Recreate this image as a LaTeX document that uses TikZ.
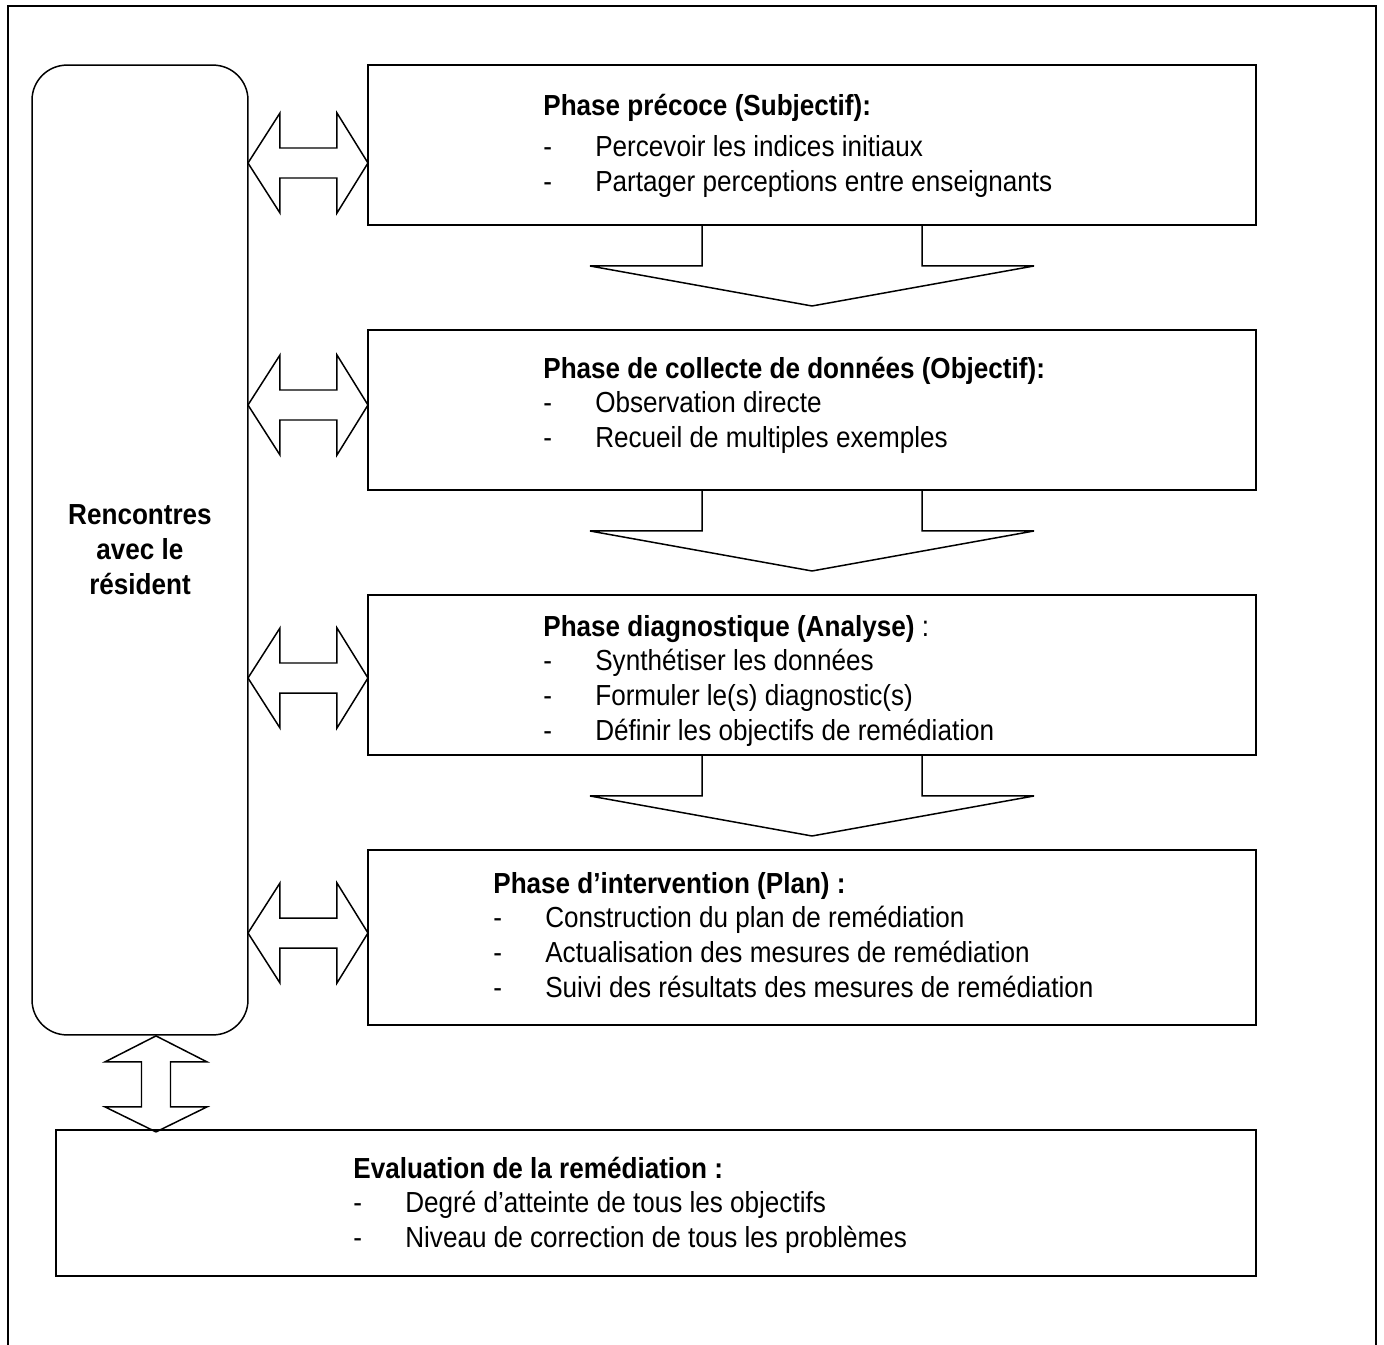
\documentclass[tikz,border=0pt]{standalone}
\usepackage{fontspec}
\setmainfont[FakeStretch=0.9]{Liberation Sans}
\newcommand\phasefont{\fontsize{16.5}{19.9}\selectfont}

\tikzset{
  phasebox/.style={draw, line width=0.85pt, outer sep=0pt, minimum width=17.76cm, minimum height=3.2cm},
  phasetext/.style={anchor=base west, inner sep=0pt, font=\phasefont},
  hdouble/.pic={\draw[line width=0.85pt] (0,0) -- (32,-50) -- (32,-15) -- (89,-15) -- (89,-50) -- (120,0) -- (89,50) -- (89,15) -- (32,15) -- (32,50) -- cycle;},
  vdouble/.pic={\draw[line width=0.85pt] (0,1) -- (51,27) -- (14.5,27) -- (14.5,72) -- (51,72) -- (0,97) -- (-51,72) -- (-14.5,72) -- (-14.5,27) -- (-51,27) -- cycle;},
  downarrow/.pic={\draw[line width=0.85pt] (-110,0) -- (-110,41) -- (-222,41) -- (0,81) -- (222,41) -- (110,41) -- (110,0);}
}

\begin{document}
\begin{tikzpicture}[x=0.02cm, y=-0.02cm]
\useasboundingbox (0,0) rectangle (1384,1345);
\draw [line width=0.85pt] (8,1345) -- (8,6) -- (1376,6) -- (1376,1345);

\node [draw, line width=0.85pt, outer sep=0pt, rounded corners=0.7cm, minimum width=4.32cm, minimum height=19.4cm,
  align=center, font=\bfseries\phasefont] (rencontres) at (140,550) {Rencontres\\avec le\\résident};

\node [phasebox] (precoce) at (812,145) {};
\node [phasebox] (collecte) at (812,410) {};
\node [phasebox] (diagnostic) at (812,675) {};
\node [phasebox, minimum height=3.5cm] (intervention) at (812,937.5) {};
\node [phasebox, minimum width=24cm, minimum height=2.92cm] (evaluation) at (656,1203) {};

\node [phasetext] (precoce-txt) at (543,116) {\begin{tabular}[t]{@{}p{1.04cm}@{}l@{}}
  \multicolumn{2}{@{}l@{}}{\bfseries Phase précoce (Subjectif):}\\[3pt]
  - & Percevoir les indices initiaux\\
  - & Partager perceptions entre enseignants
\end{tabular}};
\node [phasetext] (collecte-txt) at (543,378) {\begin{tabular}[t]{@{}p{1.04cm}@{}l@{}}
  \multicolumn{2}{@{}l@{}}{\bfseries Phase de collecte de données (Objectif):}\\
  - & Observation directe\\
  - & Recueil de multiples exemples
\end{tabular}};
\node [phasetext] (diagnostic-txt) at (543,636) {\begin{tabular}[t]{@{}p{1.04cm}@{}l@{}}
  \multicolumn{2}{@{}l@{}}{\textbf{Phase diagnostique (Analyse)} :}\\
  - & Synthétiser les données\\
  - & Formuler le(s) diagnostic(s)\\
  - & Définir les objectifs de remédiation
\end{tabular}};
\node [phasetext] (intervention-txt) at (493,893) {\begin{tabular}[t]{@{}p{1.04cm}@{}l@{}}
  \multicolumn{2}{@{}l@{}}{\bfseries Phase d’intervention (Plan) :}\\
  - & Construction du plan de remédiation\\
  - & Actualisation des mesures de remédiation\\
  - & Suivi des résultats des mesures de remédiation
\end{tabular}};
\node [phasetext] (evaluation-txt) at (353,1178) {\begin{tabular}[t]{@{}p{1.04cm}@{}l@{}}
  \multicolumn{2}{@{}l@{}}{\bfseries Evaluation de la remédiation :}\\
  - & Degré d’atteinte de tous les objectifs\\
  - & Niveau de correction de tous les problèmes
\end{tabular}};

\pic at (rencontres.east |- 0,163) {hdouble};
\pic at (rencontres.east |- 0,405) {hdouble};
\pic at (rencontres.east |- 0,678) {hdouble};
\pic at (rencontres.east |- 0,933) {hdouble};

\pic at (precoce.south) {downarrow};
\pic at (collecte.south) {downarrow};
\pic at (diagnostic.south) {downarrow};

\pic at (rencontres.south -| 156,0) {vdouble};
\end{tikzpicture}
\end{document}
